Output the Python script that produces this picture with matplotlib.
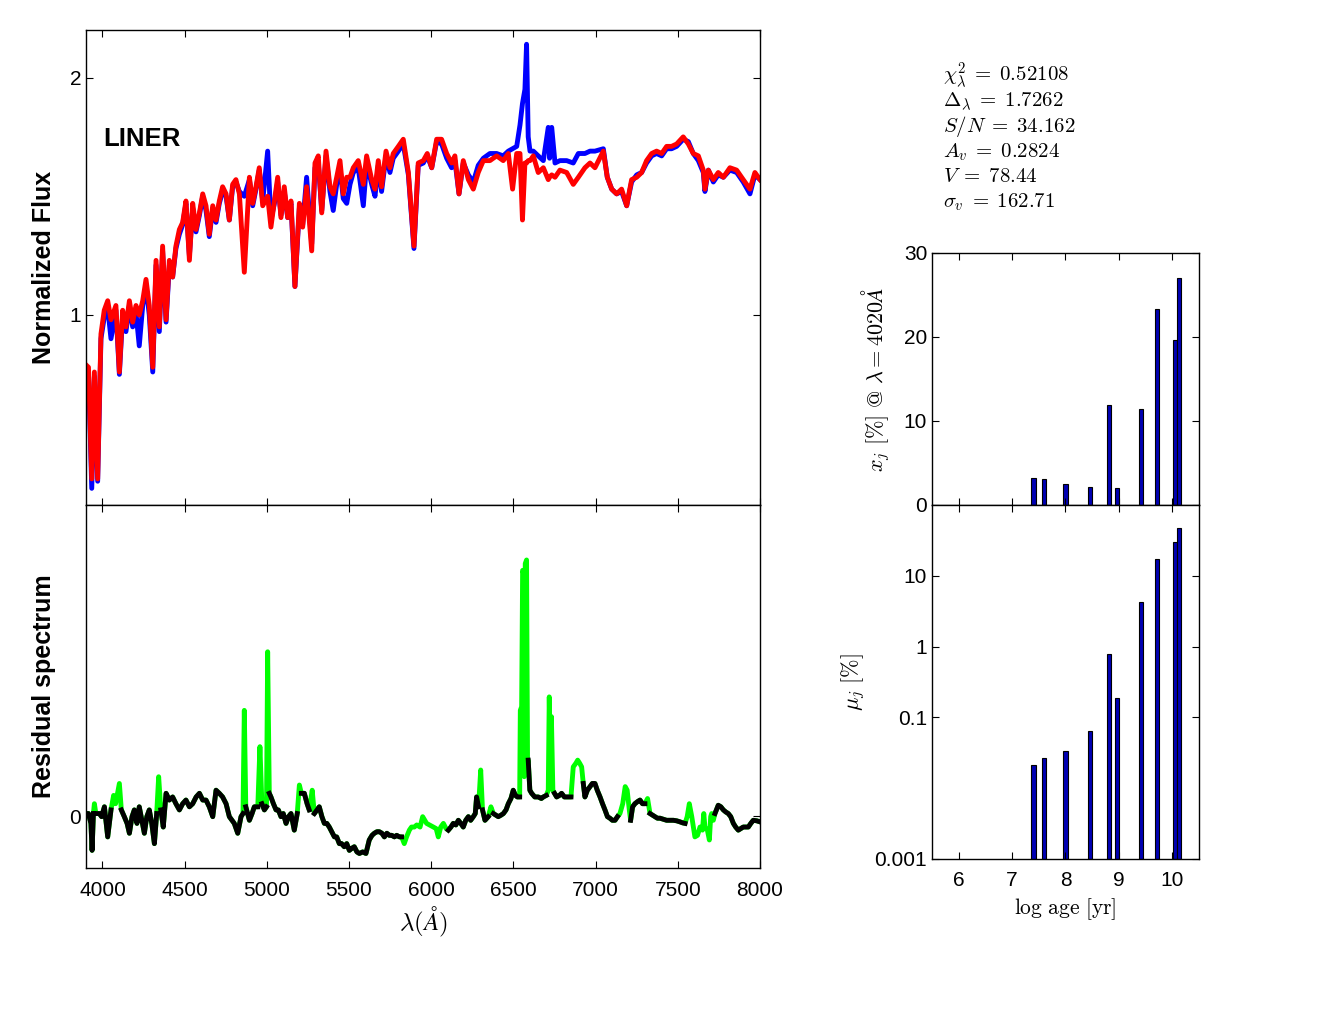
import numpy as np
import matplotlib
matplotlib.use('Agg')
import matplotlib.pyplot as plt

plt.rcParams['font.family'] = ['Liberation Sans', 'DejaVu Sans']
plt.rcParams['mathtext.fontset'] = 'cm'

# ---------------- observed (blue) and model (red) spectrum ----------------
wave = [3900, 3915, 3935, 3951, 3971, 3991, 4011, 4032, 4052, 4082,
        4103, 4123, 4143, 4164, 4184, 4204, 4224, 4245, 4265, 4285,
        4306, 4326, 4346, 4366, 4387, 4407, 4427, 4447, 4468, 4488,
        4508, 4529, 4549, 4569, 4590, 4610, 4630, 4650, 4671, 4691,
        4711, 4731, 4752, 4772, 4792, 4812, 4833, 4863, 4894, 4914,
        4934, 4954, 4975, 5005, 5025, 5046, 5066, 5086, 5106, 5127,
        5147, 5171, 5198, 5218, 5242, 5273, 5293, 5313, 5334, 5360,
        5384, 5404, 5425, 5445, 5465, 5486, 5506, 5526, 5556, 5587,
        5607, 5638, 5658, 5678, 5698, 5725, 5749, 5769, 5800, 5830,
        5861, 5895, 5921, 5952, 5976, 6003, 6033, 6063, 6094, 6124,
        6144, 6169, 6195, 6226, 6256, 6286, 6317, 6357, 6398, 6438,
        6469, 6495, 6520, 6540, 6555, 6570, 6580, 6590, 6601, 6621,
        6651, 6682, 6712, 6720, 6733, 6753, 6783, 6824, 6864, 6895, 6935,
        6966, 6996, 7047, 7071, 7098, 7128, 7158, 7189, 7219, 7250,
        7280, 7310, 7341, 7371, 7402, 7432, 7462, 7493, 7533, 7564,
        7594, 7625, 7655, 7665, 7686, 7716, 7746, 7777, 7817, 7858,
        7898, 7939, 7969, 8000]
model_flux = [0.79, 0.78, 0.31, 0.76, 0.31, 0.92, 1.02, 1.06, 0.98, 1.04,
              0.76, 1.02, 0.95, 1.06, 0.97, 1.04, 1.00, 1.06, 1.15, 1.04,
              0.78, 1.23, 0.95, 1.29, 0.98, 1.23, 1.16, 1.29, 1.36, 1.39,
              1.48, 1.23, 1.47, 1.36, 1.43, 1.51, 1.46, 1.34, 1.46, 1.40,
              1.48, 1.54, 1.51, 1.40, 1.55, 1.57, 1.51, 1.18, 1.58, 1.47,
              1.54, 1.62, 1.46, 1.50, 1.37, 1.48, 1.58, 1.41, 1.54, 1.41,
              1.48, 1.12, 1.47, 1.37, 1.54, 1.27, 1.64, 1.67, 1.43, 1.69,
              1.54, 1.51, 1.58, 1.65, 1.51, 1.58, 1.58, 1.62, 1.65, 1.55,
              1.67, 1.57, 1.53, 1.65, 1.54, 1.69, 1.62, 1.68, 1.71, 1.74,
              1.60, 1.29, 1.64, 1.65, 1.68, 1.62, 1.74, 1.74, 1.68, 1.64,
              1.67, 1.51, 1.65, 1.57, 1.53, 1.60, 1.65, 1.65, 1.67, 1.65,
              1.68, 1.53, 1.68, 1.68, 1.40, 1.64, 1.64, 1.65, 1.65, 1.67,
              1.60, 1.62, 1.57, 1.58, 1.59, 1.58, 1.61, 1.60, 1.55, 1.58, 1.62,
              1.64, 1.62, 1.69, 1.58, 1.53, 1.51, 1.53, 1.46, 1.57, 1.58,
              1.60, 1.65, 1.68, 1.69, 1.68, 1.71, 1.71, 1.72, 1.75, 1.72,
              1.68, 1.67, 1.61, 1.53, 1.61, 1.57, 1.60, 1.58, 1.62, 1.61,
              1.57, 1.53, 1.60, 1.57]
obs_flux = [0.66, 0.76, 0.27, 0.74, 0.30, 0.90, 0.99, 1.03, 0.90, 1.02,
            0.75, 1.00, 0.93, 1.04, 0.95, 1.01, 0.87, 1.04, 1.12, 1.00,
            0.76, 1.21, 0.93, 1.27, 0.97, 1.21, 1.16, 1.28, 1.34, 1.38,
            1.47, 1.25, 1.45, 1.35, 1.42, 1.50, 1.44, 1.33, 1.45, 1.39,
            1.47, 1.52, 1.50, 1.40, 1.54, 1.56, 1.52, 1.50, 1.57, 1.46,
            1.53, 1.61, 1.48, 1.69, 1.40, 1.47, 1.56, 1.42, 1.52, 1.41,
            1.47, 1.12, 1.45, 1.38, 1.58, 1.30, 1.62, 1.64, 1.44, 1.67,
            1.52, 1.44, 1.55, 1.62, 1.49, 1.47, 1.55, 1.60, 1.62, 1.46,
            1.64, 1.55, 1.50, 1.63, 1.52, 1.67, 1.60, 1.66, 1.69, 1.72,
            1.59, 1.28, 1.63, 1.64, 1.67, 1.62, 1.73, 1.72, 1.66, 1.62,
            1.65, 1.51, 1.64, 1.59, 1.56, 1.63, 1.66, 1.68, 1.68, 1.67,
            1.69, 1.70, 1.71, 1.80, 1.89, 1.95, 2.14, 1.75, 1.69, 1.69,
            1.67, 1.65, 1.79, 1.66, 1.79, 1.64, 1.65, 1.65, 1.64, 1.68, 1.68,
            1.69, 1.69, 1.70, 1.58, 1.53, 1.51, 1.52, 1.46, 1.56, 1.59,
            1.60, 1.64, 1.67, 1.68, 1.67, 1.70, 1.70, 1.71, 1.74, 1.73,
            1.68, 1.65, 1.60, 1.52, 1.61, 1.56, 1.59, 1.58, 1.61, 1.60,
            1.56, 1.51, 1.59, 1.57]

# ---------------- residual spectrum ----------------
wave_res = [3900, 3915, 3930, 3937, 3945, 3951, 3960, 3981, 3995, 4012,
            4032, 4052, 4068, 4080, 4103, 4115, 4133, 4150, 4164, 4180,
            4194, 4210, 4224, 4240, 4255, 4270, 4285, 4300, 4316, 4330,
            4342, 4355, 4370, 4387, 4407, 4427, 4447, 4468, 4488, 4508,
            4529, 4549, 4570, 4590, 4610, 4630, 4650, 4671, 4691, 4711,
            4731, 4752, 4772, 4802, 4823, 4843, 4855, 4863, 4872, 4894,
            4910, 4924, 4945, 4958, 4970, 4985, 4998, 5005, 5015, 5025,
            5040, 5056, 5070, 5086, 5100, 5117, 5132, 5147, 5167, 5185,
            5198, 5210, 5228, 5245, 5258, 5276, 5289, 5305, 5319, 5335,
            5350, 5365, 5380, 5395, 5411, 5425, 5441, 5455, 5471, 5486,
            5502, 5517, 5532, 5548, 5563, 5583, 5603, 5623, 5640, 5654,
            5670, 5684, 5700, 5715, 5730, 5745, 5760, 5776, 5790, 5806,
            5820, 5836, 5850, 5867, 5880, 5897, 5912, 5932, 5948, 5972,
            5990, 6013, 6030, 6043, 6058, 6074, 6090, 6104, 6120, 6134,
            6150, 6165, 6180, 6195, 6210, 6226, 6240, 6256, 6268, 6276,
            6288, 6301, 6312, 6327, 6347, 6363, 6378, 6393, 6408, 6425,
            6439, 6455, 6469, 6485, 6499, 6512, 6524, 6538, 6542, 6550,
            6556, 6562, 6566, 6572, 6580, 6586, 6590, 6600, 6611, 6630,
            6651, 6670, 6682, 6700, 6712, 6718, 6722, 6731, 6740, 6750,
            6763, 6780, 6793, 6810, 6834, 6850, 6864, 6880, 6891, 6903,
            6915, 6925, 6935, 6950, 6966, 6980, 6996, 7010, 7027, 7042,
            7057, 7072, 7087, 7102, 7118, 7133, 7148, 7165, 7180, 7192,
            7205, 7213, 7225, 7239, 7255, 7270, 7285, 7300, 7316, 7331,
            7346, 7361, 7376, 7392, 7412, 7432, 7452, 7473, 7493, 7513,
            7530, 7544, 7557, 7570, 7585, 7604, 7620, 7635, 7650, 7658,
            7665, 7680, 7692, 7700, 7706, 7716, 7726, 7746, 7762, 7777,
            7792, 7807, 7822, 7838, 7852, 7868, 7883, 7898, 7913, 7929,
            7944, 7959, 7980, 8000]
residual = [0.005, 0.005, -0.014, -0.066, 0.005, 0.024, 0.005, 0.005, -0.001, 0.018,
            -0.040, 0.012, 0.040, 0.024, 0.063, 0.012, -0.001, -0.014, -0.033, -0.001,
            0.012, -0.014, 0.018, -0.008, -0.033, -0.001, 0.012, -0.014, -0.053, 0.005,
            0.076, 0.012, -0.021, 0.044, 0.031, 0.037, 0.024, 0.012, 0.024, 0.031,
            0.018, 0.024, 0.037, 0.044, 0.031, 0.031, 0.018, -0.001, 0.050, 0.044,
            0.037, 0.024, -0.001, -0.014, -0.033, -0.001, 0.005, 0.204, 0.018, -0.008,
            0.005, 0.018, 0.018, 0.134, 0.024, 0.012, 0.018, 0.317, 0.044, 0.037,
            0.024, 0.012, 0.012, -0.001, 0.005, -0.014, -0.001, 0.005, -0.027, 0.005,
            0.060, 0.044, 0.044, 0.024, 0.012, 0.050, 0.005, 0.012, 0.018, -0.001,
            -0.014, -0.014, -0.021, -0.030, -0.040, -0.040, -0.053, -0.053, -0.059, -0.053,
            -0.066, -0.062, -0.059, -0.069, -0.072, -0.069, -0.072, -0.046, -0.037, -0.033,
            -0.030, -0.030, -0.033, -0.040, -0.033, -0.037, -0.037, -0.040, -0.037, -0.040,
            -0.040, -0.053, -0.040, -0.027, -0.021, -0.021, -0.017, -0.021, -0.001, -0.014,
            -0.017, -0.021, -0.024, -0.040, -0.021, -0.014, -0.024, -0.027, -0.021, -0.014,
            -0.017, -0.008, -0.014, -0.021, -0.008, -0.001, -0.008, -0.001, 0.005, 0.037,
            0.018, 0.089, 0.012, -0.008, -0.001, 0.018, 0.005, 0.002, -0.001, 0.002,
            0.005, 0.012, 0.024, 0.034, 0.050, 0.040, 0.037, 0.037, 0.204, 0.211,
            0.474, 0.468, 0.076, 0.487, 0.494, 0.102, 0.108, 0.050, 0.044, 0.037,
            0.037, 0.034, 0.037, 0.040, 0.050, 0.230, 0.153, 0.192, 0.050, 0.044,
            0.037, 0.040, 0.044, 0.037, 0.037, 0.037, 0.095, 0.102, 0.108, 0.102,
            0.095, 0.063, 0.037, 0.050, 0.057, 0.063, 0.063, 0.050, 0.037, 0.024,
            0.012, -0.001, -0.004, -0.008, -0.008, -0.001, 0.005, 0.024, 0.057, 0.050,
            0.012, -0.008, 0.018, 0.024, 0.028, 0.031, 0.024, 0.024, 0.034, 0.005,
            0.002, -0.001, -0.004, -0.004, -0.006, -0.008, -0.008, -0.008, -0.009, -0.011,
            -0.013, -0.014, -0.001, 0.024, -0.001, -0.040, -0.037, -0.021, -0.027, 0.005,
            -0.021, -0.027, -0.046, -0.001, 0.005, -0.008, 0.005, 0.021, 0.018, 0.012,
            0.008, 0.005, -0.001, -0.014, -0.021, -0.027, -0.024, -0.021, -0.021, -0.021,
            -0.014, -0.008, -0.009, -0.011]
# wavelength windows left out of the fit (drawn green only)
mask_windows = [(3946, 3956), (4064, 4072), (4097, 4110), (4335, 4350),
                (4858, 4868), (4952, 4964), (5000, 5010), (5192, 5204),
                (5270, 5282), (5830, 6100), (6295, 6307), (6357, 6369),
                (6540, 6588), (6705, 6745), (6855, 6925), (7140, 7210),
                (7310, 7322), (7550, 7720)]

# ---------------- population vectors ----------------
log_age = [7.40, 7.60, 8.00, 8.46, 8.81, 8.96, 9.41, 9.71, 10.05, 10.12]
x_j = [3.2, 3.1, 2.5, 2.1, 11.9, 2.0, 11.45, 23.3, 19.6, 27.0]
mu_j = [0.021, 0.027, 0.034, 0.065, 0.78, 0.19, 4.2, 17.4, 30.3, 47.0]

stat_names = [r'\chi^2_\lambda', r'\Delta_\lambda', r'S/N', r'A_v', r'V', r'\sigma_v']
stat_values = ['0.52108', '1.7262', '34.162', '0.2824', '78.44', '162.71']

# ---------------- figure ----------------
W, H = 1334, 1011
fig = plt.figure(figsize=(W / 100, H / 100), dpi=100)


def box(x0, y0, x1, y1):
    return [x0 / W, 1 - y1 / H, (x1 - x0) / W, (y1 - y0) / H]


def style(ax):
    ax.tick_params(direction='in', top=True, right=True, labelsize=15,
                   length=5, width=0.8)
    ax.tick_params(axis='x', pad=9)
    for s in ax.spines.values():
        s.set_linewidth(1.0)


ax1 = fig.add_axes(box(86, 30, 760, 505))
ax2 = fig.add_axes(box(86, 505, 760, 868))
ax3 = fig.add_axes(box(932, 253, 1199, 505))
ax4 = fig.add_axes(box(932, 505, 1199, 859))

ax1.plot(wave, obs_flux, color='#0000ff', lw=3.5)
ax1.plot(wave, model_flux, color='#ff0000', lw=3.5)
ax1.set_xlim(3900, 8000)
ax1.set_ylim(0.2, 2.2)
ax1.set_yticks([1, 2])
ax1.set_xticks([4000, 4500, 5000, 5500, 6000, 6500, 7000, 7500, 8000])
ax1.set_xticklabels([])
ax1.set_ylabel('Normalized Flux', fontsize=18, fontweight='bold')
ax1.yaxis.set_label_coords(-0.045, 0.5)
ax1.text(0.025, 0.77, 'LINER', transform=ax1.transAxes, fontsize=18.5,
         fontweight='bold', va='center')
style(ax1)

wr = np.array(wave_res, dtype=float)
res = np.array(residual)
fit_res = res.copy()
for a, b in mask_windows:
    fit_res[(wr > a) & (wr < b)] = np.nan
ax2.plot(wr, res, color='#00ff00', lw=3.5)
ax2.plot(wr, fit_res, color='k', lw=3.5)
ax2.set_xlim(3900, 8000)
ax2.set_ylim(-0.1, 0.6)
ax2.set_yticks([0])
ax2.set_xticks([4000, 4500, 5000, 5500, 6000, 6500, 7000, 7500, 8000])
ax2.set_xlabel(r'$\lambda(\AA)$', fontsize=18, labelpad=4)
ax2.set_ylabel('Residual spectrum', fontsize=18, fontweight='bold')
ax2.yaxis.set_label_coords(-0.045, 0.5)
style(ax2)

bar_kw = dict(width=0.08, color='#0000b4', edgecolor='k', linewidth=0.8)
ax3.bar(log_age, x_j, **bar_kw)
ax3.set_xlim(5.5, 10.5)
ax3.set_ylim(0, 30)
ax3.set_yticks([0, 10, 20, 30])
ax3.set_xticks([6, 7, 8, 9, 10])
ax3.set_xticklabels([])
ax3.set_ylabel(r'$x_j\ [\%]\ @\ \lambda = 4020\AA$', fontsize=16)
ax3.yaxis.set_label_coords(-0.15, 0.5)
style(ax3)

ax4.bar(log_age, np.array(mu_j) - 1e-3, bottom=1e-3, **bar_kw)
ax4.set_yscale('log')
ax4.set_xlim(5.5, 10.5)
ax4.set_ylim(1e-3, 100)
ax4.set_yticks([0.001, 0.1, 1, 10])
ax4.set_yticklabels(['0.001', '0.1', '1', '10'])
ax4.minorticks_off()
ax4.set_xticks([6, 7, 8, 9, 10])
ax4.set_xticklabels(['6', '7', '8', '9', '10'])
ax4.set_xlabel(r'$\mathrm{log\ age\ [yr]}$', fontsize=15.5, labelpad=4)
ax4.set_ylabel(r'$\mu_j\ [\%]$', fontsize=16)
ax4.yaxis.set_label_coords(-0.245, 0.5)
style(ax4)

for i, (n, v) in enumerate(zip(stat_names, stat_values)):
    fig.text(943 / W, 1 - (82 + 25 * i) / H, r'$%s\;=\;%s$' % (n, v),
             fontsize=15, va='baseline', ha='left')

fig.savefig('out.png', dpi=100)
